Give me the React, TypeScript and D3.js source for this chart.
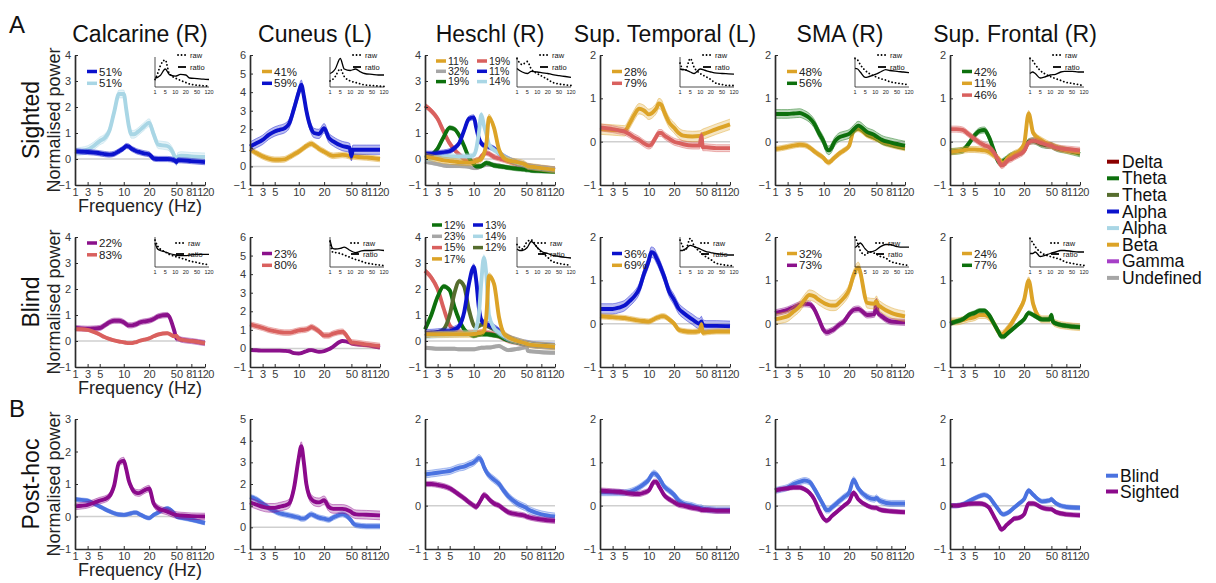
import React, { useRef, useEffect } from "react";
import * as d3 from "d3";

const FONT = "'Liberation Sans', Arial, Helvetica, sans-serif";

// frequency grid (Hz) of the spectra, and of the small raw/ratio insets
const freqs = [1, 2, 3, 4, 5, 6, 7, 8, 9, 10, 11, 12, 13, 14, 15, 16, 18, 20, 25, 30, 40, 48, 50, 53, 60, 81, 120];
const insetFreqs = [1, 2, 3, 5, 7, 10, 15, 20, 30, 50, 81, 120];
const xTicks = [1, 3, 5, 10, 20, 50, 81, 120];
const insetTicks = [1, 5, 10, 20, 50, 120];

const regions = ["Calcarine (R)", "Cuneus (L)", "Heschl (R)", "Sup. Temporal (L)", "SMA (R)", "Sup. Frontal (R)"];
const rowNames = ["Sighted", "Blind", "Post-hoc"];
const yMax = [
  [4, 6, 4, 2, 2, 2],
  [4, 6, 4, 2, 2, 2],
  [3, 5, 2, 2, 2, 2],
];
const bandNames = ["Delta", "Theta", "Theta", "Alpha", "Alpha", "Beta", "Gamma", "Undefined"];
const groupNames = ["Blind", "Sighted"];

// ---- Sighted ----
const calcS_alpha = [0.3, 0.28, 0.27, 0.25, 0.22, 0.19, 0.17, 0.2, 0.3, 0.42, 0.5, 0.48, 0.4, 0.35, 0.3, 0.27, 0.22, 0.18, 0.02, 0.0, 0.0, -0.05, -0.12, -0.05, -0.05, -0.08, -0.12];
const calcS_alpha2 = [0.26, 0.3, 0.36, 0.5, 0.69, 0.8, 1.08, 1.8, 2.5, 2.5, 1.9, 1.27, 0.95, 0.95, 1.0, 1.08, 1.25, 1.4, 0.95, 0.55, 0.5, 0.1, -0.1, 0.1, 0.13, 0.1, 0.08];
const cunS_beta = [0.93, 0.72, 0.54, 0.42, 0.36, 0.36, 0.38, 0.5, 0.65, 0.8, 0.9, 1.0, 1.1, 1.18, 1.22, 1.15, 0.95, 0.8, 0.65, 0.57, 0.62, 0.55, 0.5, 0.54, 0.52, 0.48, 0.4];
const cunS_alpha = [1.07, 1.25, 1.43, 1.7, 1.88, 1.97, 2.05, 2.3, 3.1, 4.0, 4.4, 3.8, 3.0, 2.4, 2.0, 1.8, 1.75, 2.06, 1.55, 1.35, 1.1, 1.0, 0.55, 0.9, 0.9, 0.9, 0.9];
const hesS_undef = [-0.1, -0.15, -0.2, -0.25, -0.27, -0.27, -0.27, -0.28, -0.3, -0.35, -0.35, -0.32, -0.28, -0.25, -0.22, -0.22, -0.22, -0.25, -0.3, -0.32, -0.35, -0.38, -0.4, -0.4, -0.42, -0.45, -0.45];
const hesS_delta = [2.05, 1.85, 1.55, 1.05, 0.6, 0.35, 0.17, 0.0, -0.1, -0.1, -0.05, -0.03, 0.1, 0.2, 0.23, 0.2, 0.08, 0.02, -0.03, -0.08, -0.2, -0.25, -0.27, -0.27, -0.3, -0.35, -0.4];
const hesS_theta = [0.05, 0.15, 0.4, 0.85, 1.2, 1.15, 0.9, 0.5, 0.05, -0.2, -0.28, -0.28, -0.27, -0.2, -0.15, -0.17, -0.25, -0.28, -0.3, -0.33, -0.38, -0.4, -0.42, -0.42, -0.44, -0.46, -0.48];
const hesS_alpha = [0.2, 0.2, 0.22, 0.25, 0.3, 0.42, 0.62, 1.1, 1.55, 1.6, 1.2, 0.8, 0.6, 0.52, 0.5, 0.47, 0.4, 0.23, 0.1, 0.0, -0.15, -0.22, -0.25, -0.28, -0.3, -0.35, -0.41];
const hesS_alpha2 = [0.0, 0.02, 0.05, 0.08, 0.1, 0.1, 0.1, 0.1, 0.1, 0.15, 0.4, 1.0, 1.7, 1.3, 0.95, 0.55, 0.35, 0.23, 0.1, 0.0, -0.15, -0.22, -0.25, -0.28, -0.3, -0.35, -0.41];
const hesS_beta = [0.1, 0.05, 0.0, -0.05, -0.08, -0.1, -0.12, -0.13, -0.14, -0.12, -0.08, -0.05, 0.0, 0.2, 0.6, 1.6, 1.2, 0.35, 0.05, -0.05, -0.12, -0.2, -0.25, -0.28, -0.3, -0.35, -0.42];
const supTS_beta = [0.29, 0.28, 0.27, 0.26, 0.25, 0.42, 0.62, 0.76, 0.72, 0.63, 0.65, 0.7, 0.77, 0.88, 0.85, 0.7, 0.45, 0.32, 0.2, 0.14, 0.12, 0.13, 0.15, 0.17, 0.2, 0.29, 0.4];
const supTS_delta = [0.33, 0.31, 0.29, 0.26, 0.23, 0.17, 0.1, 0.04, -0.04, -0.09, -0.07, 0.02, 0.12, 0.2, 0.2, 0.15, 0.07, 0.0, -0.03, -0.06, -0.09, -0.09, 0.14, -0.13, -0.13, -0.15, -0.15];
const smaS_beta = [-0.17, -0.15, -0.12, -0.09, -0.07, -0.08, -0.13, -0.22, -0.3, -0.38, -0.45, -0.48, -0.44, -0.38, -0.33, -0.28, -0.2, -0.1, 0.25, 0.29, 0.15, 0.08, 0.06, 0.05, 0.0, -0.08, -0.15];
const smaS_theta = [0.64, 0.64, 0.64, 0.65, 0.66, 0.62, 0.55, 0.42, 0.2, 0.0, -0.15, -0.2, -0.15, -0.03, 0.05, 0.1, 0.14, 0.18, 0.28, 0.37, 0.22, 0.15, 0.12, 0.1, 0.05, -0.02, -0.09];
const supFS_theta = [-0.23, -0.22, -0.2, -0.05, 0.15, 0.25, 0.27, 0.1, -0.2, -0.47, -0.47, -0.44, -0.4, -0.35, -0.32, -0.3, -0.26, -0.2, 0.0, 0.02, -0.07, -0.09, -0.09, -0.11, -0.15, -0.2, -0.28];
const supFS_beta = [-0.24, -0.22, -0.2, -0.18, -0.18, -0.19, -0.2, -0.24, -0.32, -0.4, -0.48, -0.5, -0.42, -0.36, -0.32, -0.28, -0.22, -0.05, 0.65, 0.2, 0.02, -0.07, -0.09, -0.1, -0.13, -0.2, -0.24];
const supFS_delta = [0.29, 0.29, 0.27, 0.17, 0.06, -0.02, -0.08, -0.13, -0.25, -0.45, -0.55, -0.53, -0.47, -0.42, -0.4, -0.36, -0.3, -0.22, -0.02, 0.02, -0.04, -0.09, -0.09, -0.11, -0.14, -0.17, -0.2];

// ---- Blind ----
const calcB_gamma = [0.5, 0.48, 0.47, 0.48, 0.5, 0.6, 0.72, 0.78, 0.78, 0.72, 0.65, 0.6, 0.6, 0.62, 0.65, 0.7, 0.75, 0.78, 0.85, 0.95, 1.0, 0.35, 0.1, 0.1, 0.05, 0.0, -0.08];
const calcB_delta = [0.45, 0.45, 0.43, 0.35, 0.25, 0.15, 0.08, 0.02, -0.02, -0.05, -0.07, -0.08, -0.08, -0.06, -0.04, 0.0, 0.05, 0.1, 0.18, 0.25, 0.3, 0.18, 0.2, 0.12, 0.05, 0.0, -0.08];
const cunB_gamma = [-0.09, -0.1, -0.12, -0.12, -0.12, -0.12, -0.13, -0.15, -0.25, -0.27, -0.25, -0.2, -0.15, -0.1, -0.09, -0.12, -0.18, -0.15, -0.05, 0.1, 0.4, 0.32, 0.27, 0.25, 0.22, 0.18, 0.04];
const cunB_delta = [1.29, 1.2, 1.11, 1.0, 0.93, 0.88, 0.85, 0.85, 0.9, 0.97, 0.99, 1.0, 1.02, 1.08, 1.15, 1.1, 0.92, 0.7, 0.7, 0.8, 0.9, 0.45, 0.33, 0.32, 0.3, 0.22, 0.13];
const hesB_undef = [-0.26, -0.28, -0.3, -0.3, -0.3, -0.3, -0.32, -0.32, -0.32, -0.32, -0.3, -0.28, -0.26, -0.26, -0.25, -0.25, -0.22, -0.19, -0.28, -0.35, -0.3, -0.25, -0.2, -0.38, -0.4, -0.43, -0.45];
const hesB_delta = [2.7, 2.44, 2.0, 1.25, 0.6, 0.42, 0.36, 0.33, 0.32, 0.32, 0.32, 0.32, 0.33, 0.33, 0.32, 0.3, 0.25, 0.19, 0.1, 0.02, -0.05, -0.1, -0.1, -0.12, -0.14, -0.17, -0.2];
const hesB_theta = [0.45, 1.0, 1.7, 2.1, 1.95, 1.3, 0.8, 0.45, 0.28, 0.2, 0.22, 0.25, 0.26, 0.26, 0.26, 0.25, 0.22, 0.19, 0.1, 0.03, -0.05, -0.1, -0.1, -0.12, -0.14, -0.17, -0.2];
const hesB_theta2 = [0.19, 0.25, 0.32, 0.45, 1.0, 1.85, 2.3, 2.1, 1.2, 0.6, 0.52, 0.58, 0.63, 0.64, 0.6, 0.55, 0.45, 0.38, 0.25, 0.15, 0.0, -0.08, -0.09, -0.1, -0.13, -0.17, -0.2];
const hesB_alpha = [0.32, 0.33, 0.35, 0.37, 0.38, 0.45, 0.58, 1.1, 2.2, 2.85, 2.3, 1.3, 0.8, 0.7, 0.65, 0.62, 0.52, 0.38, 0.22, 0.12, 0.0, -0.08, -0.09, -0.1, -0.13, -0.17, -0.2];
const hesB_alpha2 = [0.2, 0.22, 0.24, 0.25, 0.26, 0.27, 0.28, 0.29, 0.3, 0.32, 0.5, 1.0, 2.3, 3.2, 2.5, 1.0, 0.5, 0.32, 0.2, 0.1, 0.0, -0.08, -0.09, -0.1, -0.13, -0.17, -0.2];
const hesB_beta = [0.26, 0.26, 0.26, 0.26, 0.26, 0.26, 0.26, 0.26, 0.26, 0.27, 0.28, 0.3, 0.32, 0.38, 1.0, 2.5, 2.2, 0.9, 0.3, 0.15, 0.0, -0.08, -0.1, -0.12, -0.15, -0.18, -0.22];
const supTB_alpha = [0.34, 0.34, 0.34, 0.37, 0.42, 0.52, 0.63, 0.8, 1.15, 1.45, 1.65, 1.63, 1.52, 1.4, 1.25, 1.1, 0.75, 0.55, 0.35, 0.25, 0.1, 0.0, 0.05, -0.03, -0.05, -0.05, -0.06];
const supTB_beta = [0.17, 0.16, 0.15, 0.14, 0.13, 0.11, 0.09, 0.07, 0.06, 0.05, 0.07, 0.1, 0.13, 0.15, 0.17, 0.17, 0.1, 0.0, -0.14, -0.17, -0.19, -0.17, -0.02, -0.21, -0.2, -0.18, -0.18];
const smaB_beta = [0.1, 0.13, 0.17, 0.28, 0.4, 0.55, 0.66, 0.63, 0.55, 0.48, 0.45, 0.43, 0.42, 0.42, 0.43, 0.48, 0.6, 0.78, 1.12, 1.3, 0.48, 0.46, 0.52, 0.45, 0.38, 0.25, 0.17];
const smaB_gamma = [0.25, 0.28, 0.32, 0.38, 0.44, 0.46, 0.45, 0.34, 0.1, -0.15, -0.2, -0.19, -0.16, -0.13, -0.08, -0.03, 0.05, 0.22, 0.32, 0.34, 0.2, 0.22, 0.52, 0.25, 0.18, 0.05, 0.03];
const supFB_beta = [0.05, 0.05, 0.08, 0.12, 0.15, 0.2, 0.2, 0.15, 0.0, -0.2, -0.25, -0.22, -0.15, -0.08, 0.0, 0.1, 0.3, 0.55, 1.0, 0.45, 0.1, 0.1, 0.15, 0.05, 0.0, -0.05, -0.08];
const supFB_theta = [0.0, 0.05, 0.1, 0.2, 0.25, 0.3, 0.3, 0.2, 0.0, -0.2, -0.3, -0.3, -0.25, -0.2, -0.15, -0.1, 0.0, 0.1, 0.25, 0.2, 0.1, 0.1, 0.2, 0.05, 0.0, -0.05, -0.08];

// ---- Post-hoc ----
const calcP_blind = [0.53, 0.51, 0.49, 0.4, 0.31, 0.23, 0.16, 0.1, 0.06, 0.05, 0.06, 0.08, 0.1, 0.12, 0.12, 0.08, 0.0, -0.05, 0.05, 0.12, 0.25, 0.08, 0.0, -0.02, -0.04, -0.1, -0.2];
const calcP_sighted = [0.31, 0.33, 0.36, 0.42, 0.49, 0.53, 0.62, 0.95, 1.65, 1.72, 1.45, 1.1, 0.9, 0.77, 0.73, 0.72, 0.8, 0.86, 0.4, 0.25, 0.15, 0.06, 0.05, 0.04, 0.03, 0.01, 0.0];
const cunP_blind = [1.4, 1.3, 1.1, 0.9, 0.75, 0.65, 0.6, 0.55, 0.5, 0.45, 0.4, 0.4, 0.45, 0.55, 0.6, 0.55, 0.45, 0.4, 0.35, 0.45, 0.6, 0.4, 0.3, 0.2, 0.1, 0.05, 0.05];
const cunP_sighted = [1.15, 1.05, 0.95, 0.9, 0.9, 0.95, 1.0, 1.1, 1.8, 3.2, 3.75, 3.0, 2.0, 1.5, 1.3, 1.2, 1.15, 1.25, 0.95, 0.85, 0.85, 0.75, 0.7, 0.65, 0.6, 0.58, 0.55];
const hesP_blind = [0.72, 0.74, 0.76, 0.78, 0.8, 0.84, 0.88, 0.9, 0.95, 1.0, 1.05, 1.1, 1.05, 0.9, 0.78, 0.7, 0.6, 0.5, 0.35, 0.22, 0.05, -0.03, -0.05, -0.08, -0.12, -0.2, -0.25];
const hesP_sighted = [0.5, 0.5, 0.48, 0.45, 0.4, 0.33, 0.25, 0.17, 0.08, 0.0, -0.03, 0.05, 0.15, 0.25, 0.22, 0.15, 0.05, 0.0, -0.08, -0.15, -0.2, -0.23, -0.25, -0.26, -0.28, -0.32, -0.35];
const supTP_blind = [0.3, 0.3, 0.3, 0.3, 0.3, 0.32, 0.36, 0.42, 0.5, 0.6, 0.7, 0.75, 0.72, 0.65, 0.55, 0.45, 0.35, 0.25, 0.12, 0.05, 0.0, -0.05, -0.05, -0.07, -0.08, -0.1, -0.1];
const supTP_sighted = [0.35, 0.34, 0.33, 0.32, 0.3, 0.28, 0.27, 0.27, 0.3, 0.35, 0.45, 0.55, 0.55, 0.45, 0.35, 0.25, 0.15, 0.08, 0.02, 0.0, -0.05, -0.08, -0.1, -0.1, -0.1, -0.12, -0.12];
const smaP_blind = [0.35, 0.38, 0.42, 0.5, 0.55, 0.58, 0.55, 0.4, 0.2, 0.0, -0.1, -0.1, -0.05, 0.0, 0.05, 0.1, 0.2, 0.3, 0.6, 0.4, 0.2, 0.15, 0.18, 0.15, 0.1, 0.05, 0.05];
const smaP_sighted = [0.35, 0.38, 0.4, 0.42, 0.42, 0.38, 0.3, 0.15, -0.1, -0.3, -0.35, -0.32, -0.25, -0.2, -0.15, -0.1, 0.0, 0.1, 0.3, 0.15, 0.0, -0.05, -0.05, -0.07, -0.1, -0.13, -0.15];
const supFP_blind = [0.0, 0.0, 0.03, 0.1, 0.17, 0.22, 0.25, 0.2, 0.05, -0.1, -0.18, -0.2, -0.18, -0.15, -0.1, -0.05, 0.05, 0.15, 0.35, 0.25, 0.1, 0.12, 0.15, 0.12, 0.05, -0.03, -0.05];
const supFP_sighted = [0.0, 0.0, 0.02, 0.04, 0.05, 0.05, 0.03, -0.05, -0.25, -0.45, -0.55, -0.52, -0.45, -0.4, -0.35, -0.3, -0.28, -0.2, 0.05, 0.05, -0.05, -0.08, -0.08, -0.1, -0.15, -0.2, -0.22];

// ---- insets: raw spectrum (dotted) and ratio (solid), normalised 0..1 ----
const calcS_raw = [0.25, 0.45, 0.7, 0.9, 0.45, 0.3, 0.22, 0.15, 0.1, 0.06, 0.04, 0.03];
const calcS_ratio = [0.3, 0.32, 0.38, 0.6, 0.42, 0.36, 0.42, 0.4, 0.3, 0.28, 0.26, 0.25];
const cunS_raw = [0.2, 0.25, 0.35, 0.6, 0.35, 0.2, 0.15, 0.1, 0.07, 0.05, 0.03, 0.02];
const cunS_ratio = [0.45, 0.5, 0.6, 0.95, 0.6, 0.55, 0.6, 0.5, 0.45, 0.42, 0.4, 0.4];
const hesS_raw = [0.95, 0.8, 0.75, 0.85, 0.6, 0.45, 0.35, 0.25, 0.17, 0.1, 0.07, 0.05];
const hesS_ratio = [0.62, 0.55, 0.5, 0.45, 0.52, 0.5, 0.47, 0.45, 0.42, 0.38, 0.35, 0.32];
const supTS_raw = [0.8, 0.6, 0.55, 0.95, 0.65, 0.45, 0.35, 0.25, 0.15, 0.08, 0.05, 0.05];
const supTS_ratio = [0.6, 0.58, 0.57, 0.5, 0.45, 0.6, 0.55, 0.5, 0.47, 0.45, 0.44, 0.43];
const smaS_raw = [0.95, 0.9, 0.75, 0.55, 0.45, 0.35, 0.28, 0.23, 0.18, 0.13, 0.1, 0.07];
const smaS_ratio = [0.62, 0.6, 0.5, 0.32, 0.35, 0.42, 0.5, 0.58, 0.55, 0.52, 0.5, 0.48];
const supFS_raw = [0.95, 0.88, 0.75, 0.55, 0.45, 0.35, 0.28, 0.22, 0.17, 0.12, 0.08, 0.05];
const supFS_ratio = [0.45, 0.5, 0.45, 0.3, 0.33, 0.4, 0.42, 0.5, 0.52, 0.52, 0.5, 0.5];
const calcB_raw = [0.9, 0.7, 0.6, 0.5, 0.42, 0.35, 0.3, 0.25, 0.2, 0.15, 0.1, 0.08];
const calcB_ratio = [0.8, 0.6, 0.55, 0.5, 0.45, 0.4, 0.38, 0.38, 0.4, 0.42, 0.42, 0.42];
const cunB_raw = [0.85, 0.5, 0.48, 0.45, 0.4, 0.32, 0.25, 0.2, 0.15, 0.1, 0.07, 0.05];
const cunB_ratio = [0.9, 0.62, 0.6, 0.62, 0.66, 0.55, 0.48, 0.53, 0.55, 0.55, 0.57, 0.55];
const hesB_raw = [0.75, 0.65, 0.6, 0.85, 0.9, 0.65, 0.45, 0.32, 0.2, 0.12, 0.08, 0.06];
const hesB_ratio = [0.6, 0.55, 0.55, 0.65, 0.85, 0.65, 0.5, 0.45, 0.4, 0.35, 0.32, 0.3];
const supTB_raw = [0.9, 0.7, 0.55, 0.95, 0.7, 0.5, 0.35, 0.25, 0.15, 0.08, 0.05, 0.04];
const supTB_ratio = [0.55, 0.55, 0.6, 0.72, 0.68, 0.6, 0.52, 0.48, 0.45, 0.42, 0.4, 0.4];
const smaB_raw = [1.0, 0.8, 0.55, 0.4, 0.5, 0.45, 0.35, 0.3, 0.2, 0.12, 0.08, 0.05];
const smaB_ratio = [0.65, 0.72, 0.8, 0.6, 0.5, 0.55, 0.68, 0.75, 0.75, 0.68, 0.66, 0.66];
const supFB_raw = [0.95, 0.82, 0.68, 0.5, 0.42, 0.35, 0.3, 0.25, 0.18, 0.12, 0.08, 0.05];
const supFB_ratio = [0.45, 0.45, 0.5, 0.35, 0.38, 0.45, 0.5, 0.55, 0.55, 0.52, 0.5, 0.5];

const colors: Record<string, string> = {
  delta: "#d9605e",
  theta: "#0d700d",
  theta2: "#566d2e",
  alpha: "#0b12cc",
  alpha2: "#a9d6e5",
  beta: "#dca327",
  gamma: "#8b118b",
  undef: "#a6a6a6",
  blind: "#4a72e0",
  sighted: "#8b0a8b",
};
const bandColors = ["#8b0000", "#0d700d", "#566d2e", "#0b12cc", "#a9d6e5", "#dca327", "#a63fc7", "#a6a6a6"];

type Series = { k: string; p?: string; v: number[]; se: number };
type Panel = { row: number; col: number; series: Series[]; legend?: number[]; inset?: number[][] };

const panels: Panel[] = [
  { row: 0, col: 0, series: [{ k: "alpha2", p: "51%", v: calcS_alpha2, se: 0.15 }, { k: "alpha", p: "51%", v: calcS_alpha, se: 0.1 }], legend: [1, 0], inset: [calcS_raw, calcS_ratio] },
  { row: 0, col: 1, series: [{ k: "beta", p: "41%", v: cunS_beta, se: 0.15 }, { k: "alpha", p: "59%", v: cunS_alpha, se: 0.25 }], inset: [cunS_raw, cunS_ratio] },
  {
    row: 0, col: 2,
    series: [
      { k: "undef", p: "32%", v: hesS_undef, se: 0.06 },
      { k: "delta", p: "19%", v: hesS_delta, se: 0.1 },
      { k: "theta", p: "19%", v: hesS_theta, se: 0.08 },
      { k: "alpha", p: "11%", v: hesS_alpha, se: 0.1 },
      { k: "alpha2", p: "14%", v: hesS_alpha2, se: 0.1 },
      { k: "beta", p: "11%", v: hesS_beta, se: 0.12 },
    ],
    legend: [5, 0, 2, 1, 3, 4],
    inset: [hesS_raw, hesS_ratio],
  },
  { row: 0, col: 3, series: [{ k: "beta", p: "28%", v: supTS_beta, se: 0.12 }, { k: "delta", p: "79%", v: supTS_delta, se: 0.08 }], inset: [supTS_raw, supTS_ratio] },
  { row: 0, col: 4, series: [{ k: "beta", p: "48%", v: smaS_beta, se: 0.06 }, { k: "theta", p: "56%", v: smaS_theta, se: 0.1 }], inset: [smaS_raw, smaS_ratio] },
  { row: 0, col: 5, series: [{ k: "theta", p: "42%", v: supFS_theta, se: 0.07 }, { k: "beta", p: "11%", v: supFS_beta, se: 0.07 }, { k: "delta", p: "46%", v: supFS_delta, se: 0.07 }], inset: [supFS_raw, supFS_ratio] },

  { row: 1, col: 0, series: [{ k: "gamma", p: "22%", v: calcB_gamma, se: 0.1 }, { k: "delta", p: "83%", v: calcB_delta, se: 0.05 }], inset: [calcB_raw, calcB_ratio] },
  { row: 1, col: 1, series: [{ k: "gamma", p: "23%", v: cunB_gamma, se: 0.05 }, { k: "delta", p: "80%", v: cunB_delta, se: 0.15 }], inset: [cunB_raw, cunB_ratio] },
  {
    row: 1, col: 2,
    series: [
      { k: "undef", p: "23%", v: hesB_undef, se: 0.06 },
      { k: "delta", p: "15%", v: hesB_delta, se: 0.1 },
      { k: "theta", p: "12%", v: hesB_theta, se: 0.08 },
      { k: "theta2", p: "12%", v: hesB_theta2, se: 0.08 },
      { k: "alpha", p: "13%", v: hesB_alpha, se: 0.12 },
      { k: "alpha2", p: "14%", v: hesB_alpha2, se: 0.12 },
      { k: "beta", p: "17%", v: hesB_beta, se: 0.12 },
    ],
    legend: [2, 0, 1, 6, 4, 5, 3],
    inset: [hesB_raw, hesB_ratio],
  },
  { row: 1, col: 3, series: [{ k: "alpha", p: "36%", v: supTB_alpha, se: 0.12 }, { k: "beta", p: "69%", v: supTB_beta, se: 0.06 }], legend: [0, 1], inset: [supTB_raw, supTB_ratio] },
  { row: 1, col: 4, series: [{ k: "gamma", p: "73%", v: smaB_gamma, se: 0.07 }, { k: "beta", p: "32%", v: smaB_beta, se: 0.12 }], legend: [1, 0], inset: [smaB_raw, smaB_ratio] },
  { row: 1, col: 5, series: [{ k: "beta", p: "24%", v: supFB_beta, se: 0.08 }, { k: "theta", p: "77%", v: supFB_theta, se: 0.05 }], inset: [supFB_raw, supFB_ratio] },

  { row: 2, col: 0, series: [{ k: "blind", v: calcP_blind, se: 0.06 }, { k: "sighted", v: calcP_sighted, se: 0.1 }] },
  { row: 2, col: 1, series: [{ k: "blind", v: cunP_blind, se: 0.12 }, { k: "sighted", v: cunP_sighted, se: 0.2 }] },
  { row: 2, col: 2, series: [{ k: "blind", v: hesP_blind, se: 0.08 }, { k: "sighted", v: hesP_sighted, se: 0.06 }] },
  { row: 2, col: 3, series: [{ k: "blind", v: supTP_blind, se: 0.07 }, { k: "sighted", v: supTP_sighted, se: 0.06 }] },
  { row: 2, col: 4, series: [{ k: "blind", v: smaP_blind, se: 0.07 }, { k: "sighted", v: smaP_sighted, se: 0.05 }] },
  { row: 2, col: 5, series: [{ k: "blind", v: supFP_blind, se: 0.05 }, { k: "sighted", v: supFP_sighted, se: 0.05 }] },
];

const COL_X = [75, 250, 425, 600, 775, 950];
const ROW_Y = [55, 237, 419];
const PW = 130;
const PH = 130;
const TICK_POS = [0, 0.097, 0.19, 0.375, 0.57, 0.78, 0.895, 1];
const IW = 54;
const IH = 30;

function App() {
  const svgRef = useRef<SVGSVGElement>(null);

  useEffect(() => {
    const svg = d3.select(svgRef.current);
    svg.selectAll("*").remove();

    panels.forEach((p) => {
      const left = COL_X[p.col];
      const top = ROW_Y[p.row];
      const x = d3.scaleLinear().domain(xTicks).range(TICK_POS.map((f) => left + f * PW));
      const ymax = yMax[p.row][p.col];
      const y = d3.scaleLinear().domain([-1, ymax]).range([top + PH, top]);
      const g = svg.append("g");

      // zero line
      g.append("line")
        .attr("x1", left).attr("x2", left + PW)
        .attr("y1", y(0)).attr("y2", y(0))
        .attr("stroke", "#cfcfcf").attr("stroke-width", 1.5);

      p.series.forEach((s) => {
        const c = colors[s.k];
        const area = d3.area<number>()
          .x((_, i) => x(freqs[i]))
          .y0((d) => y(d - s.se))
          .y1((d) => y(d + s.se))
          .curve(d3.curveMonotoneX);
        const edge = (off: number) => d3.line<number>()
          .x((_, i) => x(freqs[i]))
          .y((d) => y(d + off))
          .curve(d3.curveMonotoneX);
        g.append("path").datum(s.v).attr("d", area).attr("fill", c).attr("fill-opacity", 0.28);
        [s.se, -s.se].forEach((off) => {
          g.append("path").datum(s.v).attr("d", edge(off)).attr("fill", "none")
            .attr("stroke", c).attr("stroke-opacity", 0.55).attr("stroke-width", 0.8);
        });
        g.append("path").datum(s.v).attr("d", edge(0)).attr("fill", "none")
          .attr("stroke", c).attr("stroke-width", 3.9).attr("stroke-linejoin", "round");
      });

      // axes
      const xa = g.append("g").attr("transform", `translate(0,${top + PH})`)
        .call(d3.axisBottom(x).tickValues(xTicks).tickFormat(d3.format("d")).tickSize(-3).tickSizeOuter(0).tickPadding(3));
      const ya = g.append("g").attr("transform", `translate(${left},0)`)
        .call(d3.axisLeft(y).tickValues(d3.range(-1, ymax + 1)).tickFormat(d3.format("d")).tickSize(-3).tickSizeOuter(0).tickPadding(4));
      [xa, ya].forEach((a) => {
        a.attr("font-family", FONT).attr("font-size", 11);
        a.select(".domain").attr("stroke", "#2b2b2b").attr("stroke-width", 1.7);
        a.selectAll(".tick line").attr("stroke", "#2b2b2b");
        a.selectAll(".tick text").attr("fill", "#3a3a3a");
      });
      xa.selectAll<SVGTextElement, number>(".tick text").attr("letter-spacing", (d) => (d >= 81 ? -0.6 : 0));

      // in-panel legend of cluster percentages
      if (p.row < 2) {
        const order = p.legend ?? p.series.map((_, i) => i);
        const isHes = p.col === 2;
        const perCol = isHes ? (p.row === 0 ? 3 : 4) : 99;
        const y0 = isHes ? (p.row === 0 ? top + 6 : top - 12) : (p.row === 1 && p.col === 0 ? top + 6 : top + 16.5);
        const dy = isHes ? (p.row === 0 ? 10.3 : 11.3) : 11.8;
        order.forEach((si, j) => {
          const s = p.series[si];
          const cj = Math.floor(j / perCol);
          const rj = j % perCol;
          const lx = left + (isHes ? (p.row === 0 ? 11 : 7) : 12) + cj * 41;
          const ly = y0 + rj * dy;
          g.append("line").attr("x1", lx).attr("x2", lx + 10).attr("y1", ly).attr("y2", ly)
            .attr("stroke", colors[s.k]).attr("stroke-width", 3.5);
          g.append("text").attr("x", lx + 12).attr("y", ly).attr("dy", "0.36em")
            .attr("font-family", FONT).attr("font-size", isHes ? 10.5 : 11.5).attr("fill", "#222")
            .text(s.p ?? "");
        });
      }

      // raw / ratio inset
      if (p.inset) {
        const il = left + (p.col === 2 ? 92 : 80);
        const it = p.row === 0 ? top + 2 : top;
        const ix = d3.scaleLinear().domain(xTicks).range(TICK_POS.map((f) => il + f * IW));
        const iy = d3.scaleLinear().domain([0, 1]).range([it + IH, it]);
        const ig = g.append("g");
        const il2 = d3.line<number>().x((_, i) => ix(insetFreqs[i])).y((d) => iy(d)).curve(d3.curveMonotoneX);
        ig.append("path").datum(p.inset[1]).attr("d", il2).attr("fill", "none").attr("stroke", "#000").attr("stroke-width", 1.3);
        ig.append("path").datum(p.inset[0]).attr("d", il2).attr("fill", "none").attr("stroke", "#000")
          .attr("stroke-width", 1.8).attr("stroke-dasharray", "0.1 3.4").attr("stroke-linecap", "round");
        ig.append("line").attr("x1", il).attr("x2", il).attr("y1", it).attr("y2", it + IH).attr("stroke", "#222").attr("stroke-width", 0.8);
        ig.append("line").attr("x1", il).attr("x2", il + IW).attr("y1", it + IH).attr("y2", it + IH).attr("stroke", "#222").attr("stroke-width", 0.8);
        ig.selectAll("text.it").data(insetTicks).join("text").attr("class", "it")
          .attr("x", (d) => ix(d)).attr("y", it + IH + 6.5).attr("text-anchor", "middle")
          .attr("font-family", FONT).attr("font-size", 5.5).attr("fill", "#222").text((d) => d);
        const ry = p.row === 0 ? [it - 2, it + 10] : [it + 6, it + 17];
        const lo = p.row === 0 ? 23 : 21;
        ["raw", "ratio"].forEach((lab, j) => {
          ig.append("line").attr("x1", il + lo).attr("x2", il + lo + 8).attr("y1", ry[j]).attr("y2", ry[j])
            .attr("stroke", "#000").attr("stroke-width", 1.8)
            .attr("stroke-dasharray", j === 0 ? "0.1 3.4" : null).attr("stroke-linecap", j === 0 ? "round" : "butt");
          ig.append("text").attr("x", il + lo + 12).attr("y", ry[j]).attr("dy", "0.35em")
            .attr("font-family", FONT).attr("font-size", 7.5).attr("fill", "#111").text(lab);
        });
      }

      if (p.row === 0) {
        g.append("text").attr("x", left + PW / 2).attr("y", 42).attr("text-anchor", "middle")
          .attr("font-family", FONT).attr("font-size", 23).attr("fill", "#111").text(regions[p.col]);
      }
      if (p.col === 0) {
        const cy = top + PH / 2;
        g.append("text").attr("transform", `translate(39,${cy}) rotate(-90)`).attr("text-anchor", "middle")
          .attr("font-family", FONT).attr("font-size", 23).attr("fill", "#111").text(rowNames[p.row]);
        g.append("text").attr("transform", `translate(60,${cy}) rotate(-90)`).attr("text-anchor", "middle")
          .attr("font-family", FONT).attr("font-size", 18).attr("fill", "#222").text("Normalised power");
        g.append("text").attr("x", left + PW / 2).attr("y", top + PH + 27).attr("text-anchor", "middle")
          .attr("font-family", FONT).attr("font-size", 18).attr("fill", "#222").text("Frequency (Hz)");
      }
    });

    // panel letters
    svg.append("text").attr("x", 9).attr("y", 33).attr("font-family", FONT).attr("font-size", 24).attr("fill", "#111").text("A");
    svg.append("text").attr("x", 9).attr("y", 417).attr("font-family", FONT).attr("font-size", 24).attr("fill", "#111").text("B");

    // frequency band legend
    bandNames.forEach((b, i) => {
      const ly = 161.7 + i * 16.6;
      svg.append("line").attr("x1", 1107).attr("x2", 1119).attr("y1", ly).attr("y2", ly)
        .attr("stroke", bandColors[i]).attr("stroke-width", 4);
      svg.append("text").attr("x", 1122).attr("y", ly).attr("dy", "0.35em")
        .attr("font-family", FONT).attr("font-size", 17.5).attr("fill", "#111").text(b);
    });

    // group legend
    groupNames.forEach((n, i) => {
      const ly = 475.7 + i * 15.8;
      svg.append("line").attr("x1", 1106).attr("x2", 1118).attr("y1", ly).attr("y2", ly)
        .attr("stroke", colors[n.toLowerCase()]).attr("stroke-width", 4);
      svg.append("text").attr("x", 1120).attr("y", ly).attr("dy", "0.35em")
        .attr("font-family", FONT).attr("font-size", 17.5).attr("fill", "#111").text(n);
    });
  }, []);

  return (
    <svg
      ref={svgRef}
      width={1216}
      height={583}
      style={{ position: "absolute", left: 0, top: 0, background: "#fff" }}
    />
  );
}

export default App;
